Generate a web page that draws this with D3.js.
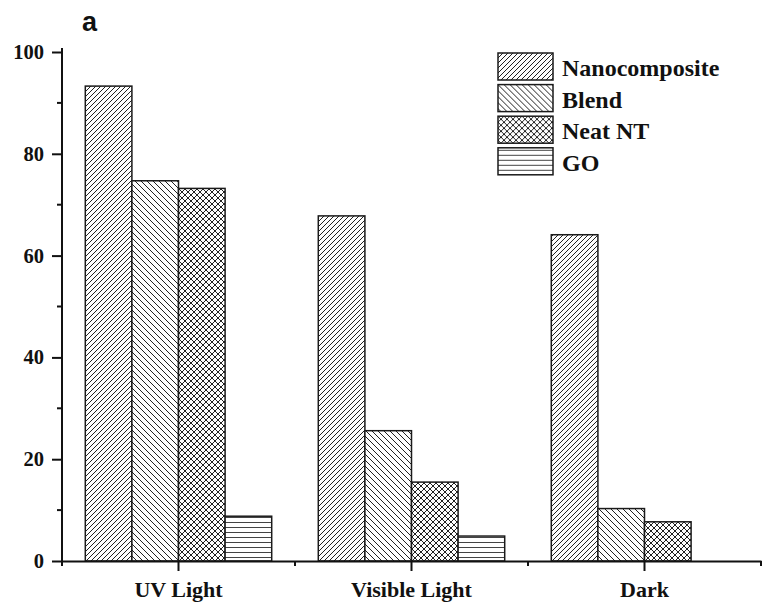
<!DOCTYPE html>
<html>
<head>
<meta charset="utf-8">
<script src="https://cdn.jsdelivr.net/npm/d3@7"></script>
<style>
	body { margin: 0; background: #fff; }
	svg { display: block; }
	.tick-label { font-family: "Liberation Serif", "Times New Roman", serif; font-weight: bold; }
</style>
</head>
<body>
<svg id="chart" width="762" height="602"></svg>
<script>

// data
const conditions = ["UV Light", "Visible Light", "Dark"];
const samples = ["Nanocomposite", "Blend", "Neat NT", "GO"];
const nanocomposite = [93.3, 67.8, 64.1];
const blend = [74.7, 25.6, 10.3];
const neat_nt = [73.2, 15.5, 7.7];
const go = [8.8, 4.9, 0];
const y_ticks = [0, 20, 40, 60, 80, 100];

const series = [nanocomposite, blend, neat_nt, go];
const pattern_ids = ["pat-nano", "pat-blend", "pat-neat", "pat-go"];

const svg = d3.select("#chart");

// hatch patterns
const defs = svg.append("defs");

function addPattern(id, size, d, color) {
	const p = defs.append("pattern")
		.attr("id", id)
		.attr("patternUnits", "userSpaceOnUse")
		.attr("width", size)
		.attr("height", size);
	p.append("rect").attr("width", size).attr("height", size).attr("fill", "white");
	p.append("path")
		.attr("d", d)
		.attr("stroke", color)
		.attr("stroke-width", 1)
		.attr("fill", "none");
}

addPattern("pat-nano", 5, "M0,5 L5,0 M-1,1 L1,-1 M4,6 L6,4", "#222");
addPattern("pat-blend", 6, "M0,0 L6,6 M-1,5 L1,7 M5,-1 L7,1", "#222");
addPattern("pat-neat", 6, "M0,0 L6,6 M-1,5 L1,7 M5,-1 L7,1 M0,6 L6,0 M-1,1 L1,-1 M5,7 L7,5", "#222");
addPattern("pat-go", 5, "M0,2.5 L5,2.5", "#444");

const x0 = d3.scaleBand()
	.domain(conditions)
	.range([62, 761])
	.paddingInner(0)
	.paddingOuter(0);

const x1 = d3.scaleBand()
	.domain(samples)
	.range([0, x0.bandwidth()])
	.paddingInner(0)
	.paddingOuter(0.5);

const y = d3.scaleLinear()
	.domain([0, 100])
	.range([561, 52]);

// bars
const groups = svg.append("g").selectAll(".group")
	.data(conditions)
	.enter().append("g")
	.attr("class", "group")
	.attr("transform", (d) => "translate(" + x0(d) + ",0)");

groups.selectAll("rect")
	.data((d, i) => samples.map((s, j) => ({sample: s, value: series[j][i], idx: j})))
	.enter().append("rect")
	.filter((d) => d.value > 0)
	.attr("x", (d) => x1(d.sample))
	.attr("width", x1.bandwidth())
	.attr("y", (d) => y(d.value))
	.attr("height", (d) => y(0) - y(d.value))
	.attr("fill", (d) => "url(#" + pattern_ids[d.idx] + ")")
	.attr("stroke", "#1a1a1a")
	.attr("stroke-width", 1.5);

// y axis: major ticks with labels, minor ticks in between
const y_axis = d3.axisLeft(y)
	.tickValues(y_ticks)
	.tickSize(10)
	.tickSizeOuter(0)
	.tickPadding(8);

const y_g = svg.append("g")
	.attr("transform", "translate(62,0)")
	.call(y_axis);
y_g.select(".domain").attr("d", "M0," + (y(100) - 4) + "V" + y(0));
y_g.selectAll("line, path").attr("stroke", "#111").attr("stroke-width", 2);
y_g.selectAll("text")
	.attr("class", "tick-label")
	.style("font-size", "20.5px")
	.attr("fill", "#111");

svg.append("g").selectAll("line")
	.data([10, 30, 50, 70, 90])
	.enter().append("line")
	.attr("x1", 57).attr("x2", 62)
	.attr("y1", (d) => y(d)).attr("y2", (d) => y(d))
	.attr("stroke", "#111").attr("stroke-width", 2);

// x axis
const x_axis = d3.axisBottom(x0)
	.tickSize(10)
	.tickSizeOuter(0);

const x_g = svg.append("g")
	.attr("transform", "translate(0," + y(0) + ")")
	.call(x_axis);
x_g.selectAll("line, path").attr("stroke", "#111").attr("stroke-width", 2);
x_g.selectAll("text")
	.attr("class", "tick-label")
	.attr("y", 35.5)
	.attr("dy", null)
	.style("font-size", "22px")
	.attr("fill", "#111");

// short ticks at the band edges
const edges = conditions.map((c) => x0(c)).concat([x0(conditions[2]) + x0.bandwidth()]);
svg.append("g").selectAll("line")
	.data(edges)
	.enter().append("line")
	.attr("x1", (d) => d).attr("x2", (d) => d)
	.attr("y1", y(0)).attr("y2", y(0) + 5)
	.attr("stroke", "#111").attr("stroke-width", 2);

// legend
const legend = svg.append("g").attr("transform", "translate(498,53)");
const legend_rows = legend.selectAll(".row")
	.data(samples)
	.enter().append("g")
	.attr("class", "row")
	.attr("transform", (d, i) => "translate(0," + (i * 31.6) + ")");

legend_rows.append("rect")
	.attr("width", 55)
	.attr("height", 27)
	.attr("fill", (d, i) => "url(#" + pattern_ids[i] + ")")
	.attr("stroke", "#1a1a1a")
	.attr("stroke-width", 1.5);

legend_rows.append("text")
	.attr("class", "tick-label")
	.attr("x", 64)
	.attr("y", 23)
	.style("font-size", "24px")
	.attr("fill", "#111")
	.text((d) => d);

// panel letter
svg.append("text")
	.attr("x", 82)
	.attr("y", 31)
	.style("font-family", "'Liberation Sans', Arial, sans-serif")
	.style("font-weight", "bold")
	.style("font-size", "27px")
	.attr("fill", "#111")
	.text("a");

</script>
</body>
</html>
